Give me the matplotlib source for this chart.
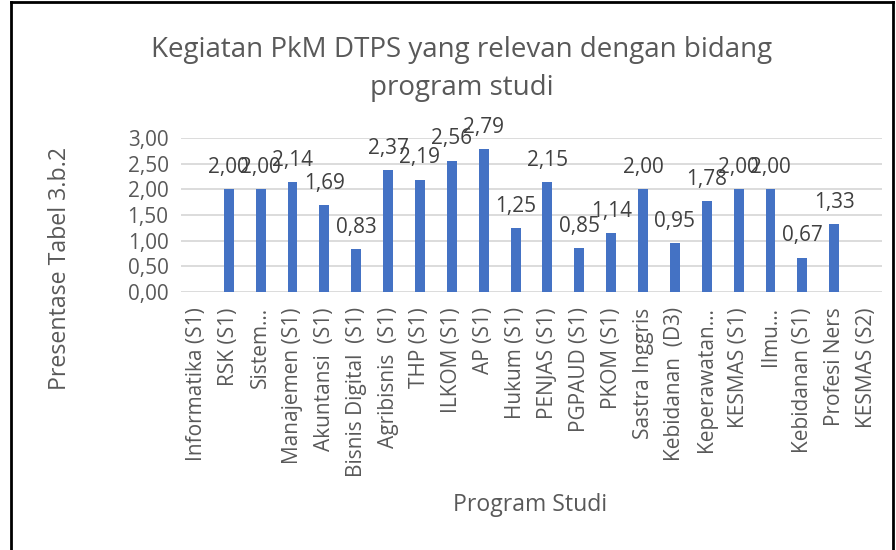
import matplotlib
matplotlib.use("Agg")
import matplotlib.pyplot as plt
from matplotlib.lines import Line2D
import numpy as np

categories = ["Informatika (S1)", "RSK (S1)", "Sistem…", "Manajemen (S1)", "Akuntansi  (S1)",
              "Bisnis Digital  (S1)", "Agribisnis  (S1)", "THP (S1)", "ILKOM (S1)", "AP (S1)",
              "Hukum (S1)", "PENJAS (S1)", "PGPAUD (S1)", "PKOM (S1)", "Sastra Inggris",
              "Kebidanan  (D3)", "Keperawatan…", "KESMAS (S1)", "Ilmu…", "Kebidanan (S1)",
              "Profesi Ners", "KESMAS (S2)"]
values = [np.nan, 2.00, 2.00, 2.14, 1.69, 0.83, 2.37, 2.19, 2.56, 2.79,
          1.25, 2.15, 0.85, 1.14, 2.00, 0.95, 1.78, 2.00, 2.00, 0.67,
          1.33, np.nan]
yticks = [0.0, 0.5, 1.0, 1.5, 2.0, 2.5, 3.0]

plt.rcParams['font.family'] = ['Open Sans', 'DejaVu Sans']

W, H = 896, 550
fig = plt.figure(figsize=(W/100, H/100), dpi=100)
renderer = fig.canvas.get_renderer()


def fit_size(text, target_px):
    t = fig.text(0, 0, text, fontsize=10)
    bb = t.get_window_extent(renderer=renderer)
    t.remove()
    return 10 * target_px / bb.width


title_fs = fit_size("Kegiatan PkM DTPS yang relevan dengan bidang", 623)
axlab_fs = fit_size("Program Studi", 154)
ylab_fs = fit_size("Presentase Tabel 3.b.2", 243)
ytick_fs = fit_size("3,00", 41)
xtick_fs = fit_size("Informatika (S1)", 154)
dlab_fs = fit_size("1,69", 41)

ax = fig.add_axes([181/W, 1-292/H, (882-181)/W, (292-138)/H])

x = np.arange(len(categories))
vals = np.array(values, dtype=float)
ax.bar(x, np.nan_to_num(vals), width=0.31, color='#4472C4', zorder=3)
for xi, v in zip(x, vals):
    if not np.isnan(v):
        ax.annotate(f"{v:.2f}".replace('.', ','), (xi, v), xytext=(0, 8),
                    textcoords='offset points', ha='center', va='bottom',
                    fontsize=dlab_fs, color='#404040', annotation_clip=False)

ax.set_xlim(-0.5, len(categories)-0.5)
ax.set_ylim(0, 3.0)
ax.set_yticks(yticks)
ax.set_yticklabels([f"{t:.2f}".replace('.', ',') for t in yticks], fontsize=ytick_fs, color='#595959')
ax.set_xticks(x)
ax.set_xticklabels(categories, rotation=90, fontsize=xtick_fs, color='#595959', va='top', ha='center')
ax.tick_params(axis='both', length=0)
ax.tick_params(axis='x', pad=11)
ax.tick_params(axis='y', pad=9)
ax.grid(axis='y', color='#D9D9D9', linewidth=1.3, zorder=0)
for s in ax.spines.values():
    s.set_visible(False)

fig.text(0.515, 1-50/H, "Kegiatan PkM DTPS yang relevan dengan bidang", ha='center', va='center',
         fontsize=title_fs, color='#595959')
fig.text(0.515, 1-88/H, "program studi", ha='center', va='center', fontsize=title_fs, color='#595959')
fig.text(60/W, 1-268/H, "Presentase Tabel 3.b.2", rotation=90, ha='center', va='center',
         fontsize=ylab_fs, color='#595959')
fig.text(530/W, 1-505/H, "Program Studi", ha='center', va='center', fontsize=axlab_fs, color='#595959')

# outer frame (left, top, right)
fig.add_artist(Line2D([10.5/W, 10.5/W], [0, 1-2/H], transform=fig.transFigure, color='black', lw=2))
fig.add_artist(Line2D([10.5/W, 893/W], [1-2/H, 1-2/H], transform=fig.transFigure, color='black', lw=2))
fig.add_artist(Line2D([893/W, 893/W], [0, 1-2/H], transform=fig.transFigure, color='black', lw=2))

fig.savefig("out.png", dpi=100)
